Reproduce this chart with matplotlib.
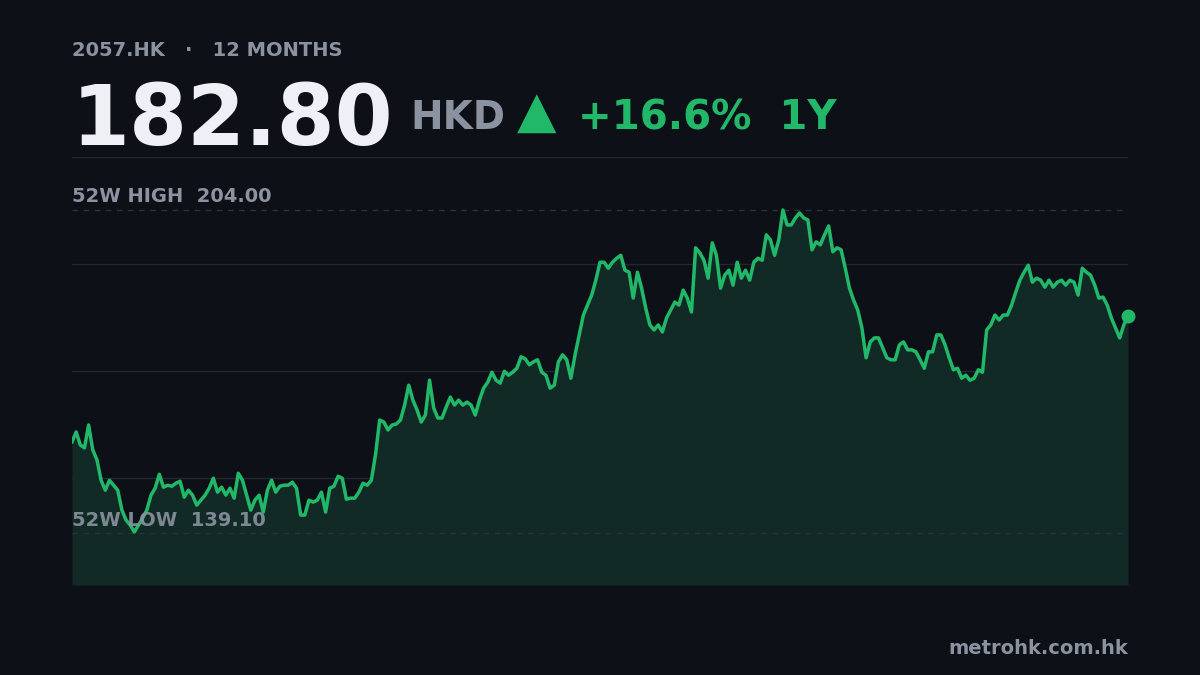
import matplotlib
matplotlib.use("Agg")
import matplotlib.pyplot as plt
import numpy as np

prices = [157.4,159.4,156.8,156.2,160.8,155.8,153.8,149.7,147.7,149.7,148.7,147.7,143.7,141.7,140.7,139.3,140.7,142.1,143.7,146.7,148.1,150.9,148.3,148.7,148.5,149.1,149.5,146.3,147.7,146.7,144.7,145.7,146.7,148.1,150.1,147.3,148.3,146.7,148.1,146.1,151.1,149.7,146.7,143.7,145.7,146.7,143.3,147.7,149.7,147.3,148.5,148.7,148.7,149.3,148.1,142.7,142.7,145.7,145.3,145.7,147.3,143.3,148.1,148.5,150.5,150.1,145.9,146.1,146.1,147.3,149.1,148.7,149.7,154.8,161.8,161.4,159.8,160.8,161.0,161.8,164.8,168.8,165.8,163.8,161.4,162.8,169.8,164.2,162.2,162.2,164.4,166.4,164.8,165.8,164.8,165.4,164.8,162.8,165.8,168.2,169.4,171.4,169.8,169.2,171.6,170.8,171.4,172.2,174.5,174.1,172.9,173.5,173.9,171.4,170.8,168.2,168.8,173.5,174.9,173.9,170.2,174.9,178.9,182.9,184.9,186.9,189.9,193.5,193.5,192.3,193.5,194.3,194.9,191.9,191.5,186.3,191.5,188.3,184.3,180.9,179.9,180.9,179.5,182.3,183.9,185.5,184.9,187.9,186.3,183.5,196.4,195.4,193.9,190.3,197.4,194.9,188.3,190.9,191.9,188.9,193.5,190.3,191.9,189.9,193.5,194.3,193.9,199.0,198.0,194.9,198.0,204.0,201.0,201.0,202.4,203.4,202.4,202.0,196.0,197.6,197.0,199.0,200.8,195.6,196.4,196.0,192.3,188.3,185.9,183.9,180.3,174.3,177.5,178.3,178.3,176.3,174.3,173.9,173.9,176.9,177.5,175.9,175.9,175.5,173.9,172.2,175.5,175.5,178.9,178.9,176.9,174.3,171.9,172.2,170.2,170.8,169.8,170.2,171.9,171.4,179.9,180.9,182.9,181.9,182.9,182.9,184.9,187.5,189.9,191.5,192.9,189.5,190.3,189.9,188.5,189.9,188.5,189.5,189.9,188.9,189.9,189.5,186.9,192.3,191.5,190.9,188.9,186.3,186.5,184.9,182.3,180.3,178.3,180.9,182.8]
high, low = 204.00, 139.10
ymin, ymax = 128.65, 214.65
gridvals = [150.15, 171.65, 193.15, 214.65]

BG = "#0d1017"
GREEN = "#22b86a"
GREY = "#8b93a1"

fig = plt.figure(figsize=(12, 6.75), dpi=100, facecolor=BG)
ax = fig.add_axes([0.06, 1 - 585/675, 0.88, (585-157)/675])
ax.set_facecolor(BG)
x = np.arange(len(prices))
ax.set_xlim(0, len(prices) - 1)
ax.set_ylim(ymin, ymax)
for g in gridvals:
    ax.axhline(g, color="#232830", lw=1, zorder=1)
ax.axhline(ymin, color="#232830", lw=1, zorder=1)
ax.fill_between(x, prices, ymin, color="#112a25", zorder=2, lw=0)
for v in (high, low):
    ax.axhline(v, color="#2c323b", lw=1, ls=(0, (4, 4)), zorder=3)
ax.plot(x, prices, color=GREEN, lw=2.5, zorder=4, solid_joinstyle="round")
ax.plot([x[-1]], [prices[-1]], "o", color=GREEN, ms=9, zorder=5, clip_on=False)
for s in ax.spines.values():
    s.set_visible(False)
ax.set_xticks([]); ax.set_yticks([])

def px(xp, yp):
    return xp/1200, 1 - yp/675

fig.text(*px(72, 51), "2057.HK   ·   12 MONTHS", color=GREY, fontsize=14, fontweight="bold", va="center")
fig.text(*px(72, 145), "182.80", color="#eef0f5", fontsize=60, fontweight="bold", va="baseline")
fig.text(*px(410, 129), "HKD", color=GREY, fontsize=28, fontweight="bold", va="baseline")
fig.text(*px(517, 128), "▲", color=GREEN, fontsize=37, va="baseline")
fig.text(*px(578, 129), "+16.6%  1Y", color=GREEN, fontsize=29, fontweight="bold", va="baseline")
fig.text(*px(72, 197), "52W HIGH  204.00", color=GREY, fontsize=14, fontweight="bold", va="center")
fig.text(*px(72, 521), "52W LOW  139.10", color=GREY, fontsize=14, fontweight="bold", va="center", alpha=0.9)
fig.text(*px(1128, 648), "metrohk.com.hk", color=GREY, fontsize=14, fontweight="bold", va="center", ha="right")

fig.savefig("out.png", dpi=100, facecolor=BG)
